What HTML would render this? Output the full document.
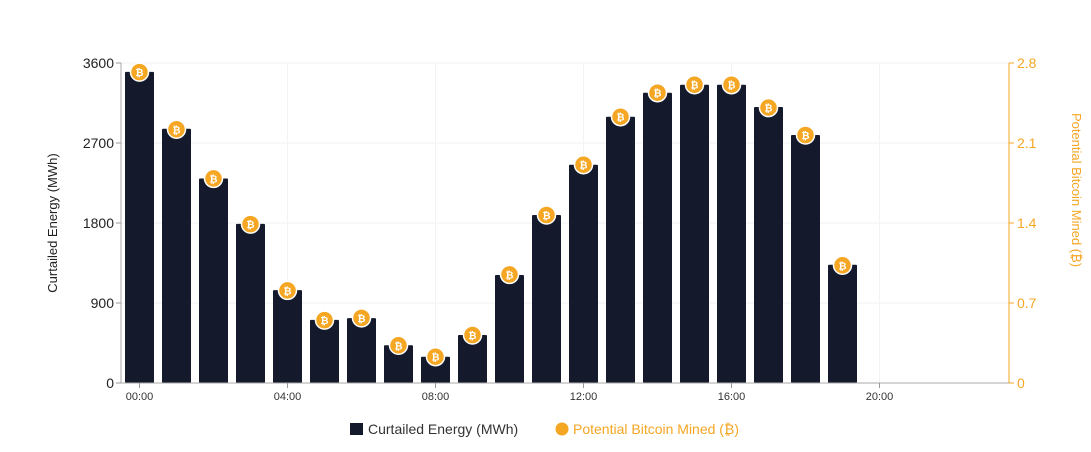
<!DOCTYPE html>
<html><head><meta charset="utf-8"><style>
body{margin:0;background:#fff;font-family:"Liberation Sans","DejaVu Sans",sans-serif}
svg text{font-family:"Liberation Sans","DejaVu Sans",sans-serif}
</style></head><body>
<svg id="chart" width="1091" height="447" viewBox="0 0 1091 447" xmlns="http://www.w3.org/2000/svg"></svg>
<script>
const hours = ["00:00","01:00","02:00","03:00","04:00","05:00","06:00","07:00","08:00","09:00","10:00","11:00","12:00","13:00","14:00","15:00","16:00","17:00","18:00","19:00","20:00","21:00","22:00","23:00"];
const energyValues = [3500,2860,2300,1790,1045,710,730,425,295,540,1215,1890,2455,2995,3265,3355,3355,3105,2790,1330,null,null,null,null];
const bitcoinValues = [2.72,2.22,1.79,1.39,0.81,0.55,0.57,0.33,0.23,0.42,0.95,1.47,1.91,2.33,2.54,2.61,2.61,2.41,2.17,1.03,null,null,null,null];
const leftTicks = [0,900,1800,2700,3600];
const rightTicks = [0,0.7,1.4,2.1,2.8];
const xTickLabels = ["00:00","04:00","08:00","12:00","16:00","20:00"];

const svg = document.getElementById('chart');
const NS = 'http://www.w3.org/2000/svg';
const L = 121, R = 1009, T = 63, B = 383;
const band = (R - L) / hours.length;
const yL = v => B - v / 3600 * (B - T);
const yR = v => B - v / 2.8 * (B - T);
const xC = i => L + band * i + band / 2;
function mk(tag, attrs, parent) {
  const e = document.createElementNS(NS, tag);
  for (const k in attrs) e.setAttribute(k, attrs[k]);
  (parent || svg).appendChild(e);
  return e;
}
// grid
leftTicks.forEach((t, i) => {
  const g = mk('line', {x1: L, x2: R, y1: yL(t), y2: yL(t), stroke: '#f0f0f0'});
  
  
});
hours.forEach((h, i) => {
  if (i % 4 === 0) {
    const g = mk('line', {x1: xC(i), x2: xC(i), y1: T, y2: B, stroke: '#f3f3f3'});
    
    
  }
});
// bars
hours.forEach((h, i) => {
  const v = energyValues[i];
  if (v == null) return;
  const r = mk('rect', {x: xC(i) - 14.5, y: yL(v), width: 29, height: B - yL(v), fill: '#141a2b', rx: 1});
  
  
});
// axes
mk('line', {x1: L, x2: L, y1: T, y2: B, stroke: '#aaa'});
mk('line', {x1: R, x2: R, y1: T, y2: B, stroke: '#f5a623'});
mk('line', {x1: L, x2: R, y1: B, y2: B, stroke: '#aaa'});
leftTicks.forEach(t => {
  mk('line', {x1: L - 5, x2: L, y1: yL(t), y2: yL(t), stroke: '#999'});
  const tx = mk('text', {x: L - 7, y: yL(t) + 5, 'text-anchor': 'end', 'font-size': 14, fill: '#222'});
  tx.textContent = t;
  
  
});
rightTicks.forEach(t => {
  mk('line', {x1: R, x2: R + 5, y1: yR(t), y2: yR(t), stroke: '#f5a623'});
  const tx = mk('text', {x: R + 8, y: yR(t) + 5, 'font-size': 14, fill: '#f5a623'});
  tx.textContent = t;
  
  
});
xTickLabels.forEach(lbl => {
  const i = hours.indexOf(lbl);
  mk('line', {x1: xC(i), x2: xC(i), y1: B, y2: B + 5, stroke: '#999'});
  const tx = mk('text', {x: xC(i), y: B + 17, 'text-anchor': 'middle', 'font-size': 11, fill: '#333'});
  tx.textContent = lbl;
  
  
});
// points
hours.forEach((h, i) => {
  const v = bitcoinValues[i];
  if (v == null) return;
  const g = mk('g', {});
  
  
  mk('circle', {cx: xC(i), cy: yR(v), r: 9, fill: '#f5a623', stroke: '#fff', 'stroke-width': 1.5}, g);
  const t = mk('text', {x: xC(i), y: yR(v) + 4, 'text-anchor': 'middle', 'font-size': 10, 'font-weight': 'bold', fill: '#fff'}, g);
  t.textContent = '₿';
});
// axis titles
const yt = mk('text', {transform: 'translate(57,223) rotate(-90)', 'text-anchor': 'middle', 'font-size': 13, fill: '#222'});
yt.textContent = 'Curtailed Energy (MWh)';


const yt2 = mk('text', {transform: 'translate(1072,190) rotate(90)', 'text-anchor': 'middle', 'font-size': 13, fill: '#f5a623'});
yt2.textContent = 'Potential Bitcoin Mined (₿)';


// legend
const lg1 = mk('g', {});


mk('rect', {x: 350, y: 423, width: 13, height: 12, fill: '#141a2b'}, lg1);
const l1 = mk('text', {x: 368, y: 434, 'font-size': 14, fill: '#333'}, lg1);
l1.textContent = 'Curtailed Energy (MWh)';
const lg2 = mk('g', {});


mk('circle', {cx: 562, cy: 429, r: 6.5, fill: '#f5a623'}, lg2);
const l2 = mk('text', {x: 573, y: 434, 'font-size': 14, fill: '#f5a623'}, lg2);
l2.textContent = 'Potential Bitcoin Mined (₿)';
</script>
</body></html>
